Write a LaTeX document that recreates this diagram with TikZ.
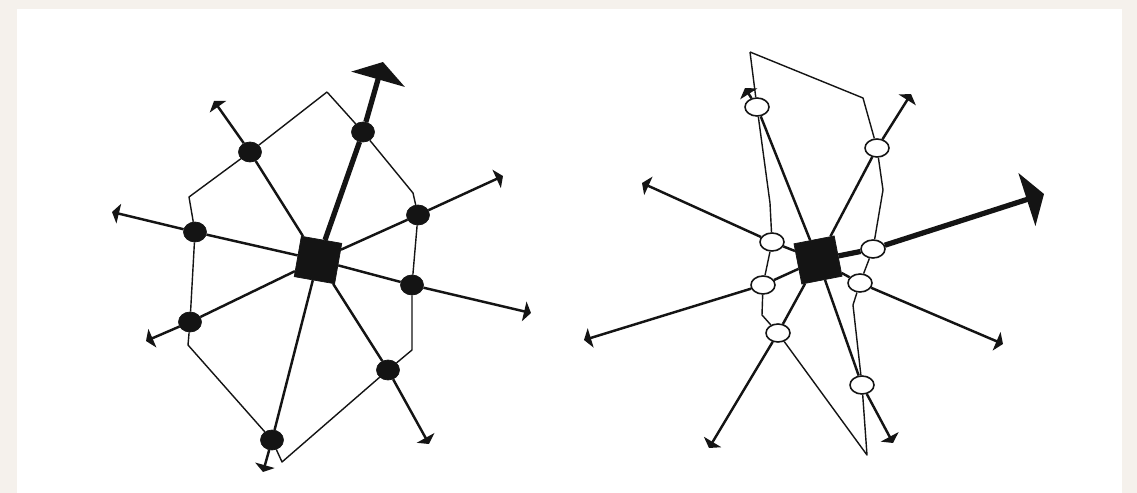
\documentclass[tikz,border=0pt]{standalone}
\usepackage{xcolor}
\usepackage{tikz}
\usetikzlibrary{arrows.meta,shapes.geometric}
\definecolor{paper}{RGB}{245,241,236}
\definecolor{ink}{RGB}{20,20,20}
\tikzset{
  hub/.style={rectangle,draw=ink,fill=ink,minimum size=8.2mm,inner sep=0pt},
  fullpt/.style={ellipse,draw=ink,fill=ink,minimum width=4.6mm,
                 minimum height=4mm,inner sep=0pt},
  openpt/.style={ellipse,draw=ink,fill=white,line width=0.9pt,
                 minimum width=4.8mm,minimum height=3.6mm,inner sep=0pt},
  spoke/.style={draw=ink,line width=1.4pt,-{Triangle[width=4mm,length=1.4mm]}},
  bigspoke/.style={draw=ink,line width=3pt,-{Triangle[width=11mm,length=3.6mm]}},
  rim/.style={draw=ink,line width=0.8pt,line join=round},
}

\begin{document}
\begin{tikzpicture}[x=0.02cm,y=-0.02cm]
% frame
\useasboundingbox (0,0) rectangle (1137,493);
\fill[paper] (0,0) rectangle (1137,493);
\fill[white] (17,9) rectangle (1122,493);

% ---- left star: filled beads ----
\node[hub,rotate=-10] (sqL) at (318,260) {};
\node[fullpt] (dTA) at (363,132) {};
\node[fullpt] (dUL) at (250,152) {};
\node[fullpt] (dL)  at (195,232) {};
\node[fullpt] (dLL) at (190,322) {};
\node[fullpt] (dB)  at (272,440) {};
\node[fullpt] (dBR) at (388,370) {};
\node[fullpt] (dRL) at (412,285) {};
\node[fullpt] (dRU) at (418,215) {};

\coordinate (tTA) at (383,62);
\coordinate (tUL) at (214,101);
\coordinate (tL)  at (112,212);
\coordinate (tLL) at (146,341);
\coordinate (tB)  at (263,472);
\coordinate (tBR) at (429,444);
\coordinate (tRL) at (531,313);
\coordinate (tRU) at (503,176);

% rim corners
\coordinate (pT)  at (327,92);
\coordinate (pR1) at (413,193);
\coordinate (pR2) at (412,350);
\coordinate (pB)  at (282,462);
\coordinate (pL2) at (188,345);
\coordinate (pL1) at (189,197);

\draw[rim] (pT) -- (dTA) -- (pR1) -- (dRU) -- (dRL) -- (pR2) -- (dBR)
  -- (pB) -- (dB) -- (pL2) -- (dLL) -- (dL) -- (pL1) -- (dUL) -- (pT);

\draw[bigspoke] (sqL) -- (dTA) -- (tTA);
\draw[spoke] (sqL) -- (dUL) -- (tUL);
\draw[spoke] (sqL) -- (dL)  -- (tL);
\draw[spoke] (sqL) -- (dLL) -- (tLL);
\draw[spoke] (sqL) -- (dB)  -- (tB);
\draw[spoke] (sqL) -- (dBR) -- (tBR);
\draw[spoke] (sqL) -- (dRL) -- (tRL);
\draw[spoke] (sqL) -- (dRU) -- (tRU);

% ---- right star: open beads ----
\node[hub,rotate=11] (sqR) at (818,260) {};
\node[openpt] (c1) at (757,107) {};
\node[openpt] (c2) at (877,148) {};
\node[openpt] (c3) at (772,242) {};
\node[openpt] (c4) at (873,249) {};
\node[openpt] (c5) at (763,285) {};
\node[openpt] (c6) at (860,283) {};
\node[openpt] (c7) at (778,333) {};
\node[openpt] (c8) at (862,385) {};

\coordinate (u1) at (745,88);
\coordinate (u2) at (911,94);
\coordinate (u3) at (642,183);
\coordinate (u4) at (1044,194);
\coordinate (u5) at (584,340);
\coordinate (u6) at (1003,344);
\coordinate (u7) at (709,448);
\coordinate (u8) at (893,443);

% rim corners
\coordinate (qTL) at (750,52);
\coordinate (qTR) at (863,98);
\coordinate (qR1) at (883,190);
\coordinate (qR2) at (853,305);
\coordinate (qB)  at (867,455);
\coordinate (qL2) at (762,315);
\coordinate (qL1) at (770,203);

\draw[rim] (qTL) -- (qTR) -- (c2) -- (qR1) -- (c4) -- (c6) -- (qR2) -- (c8)
  -- (qB) -- (c7) -- (qL2) -- (c5) -- (c3) -- (qL1) -- (c1) -- (qTL);

\draw[spoke] (sqR) -- (c1) -- (u1);
\draw[spoke] (sqR) -- (c2) -- (u2);
\draw[spoke] (sqR) -- (c3) -- (u3);
\draw[bigspoke] (sqR) -- (c4) -- (u4);
\draw[spoke] (sqR) -- (c5) -- (u5);
\draw[spoke] (sqR) -- (c6) -- (u6);
\draw[spoke] (sqR) -- (c7) -- (u7);
\draw[spoke] (sqR) -- (c8) -- (u8);

\end{tikzpicture}
\end{document}
